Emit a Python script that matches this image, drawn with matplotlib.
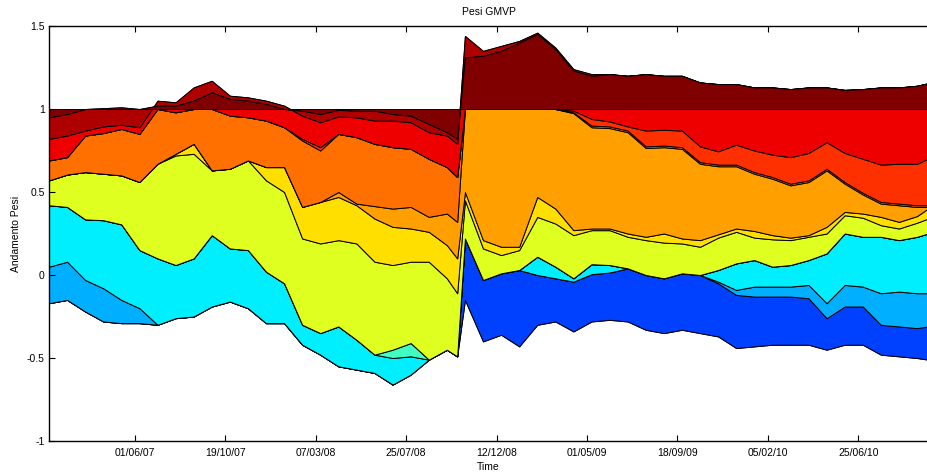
import numpy as np
import pandas as pd
import matplotlib
matplotlib.use('Agg')
import matplotlib.pyplot as plt
import matplotlib.dates as mdates
from matplotlib.ticker import FixedLocator, FixedFormatter

plt.rcParams['font.family'] = ['Liberation Sans', 'DejaVu Sans']
plt.rcParams['axes.unicode_minus'] = False

# observation dates (4-weekly, with the October 2008 break)
dates = (pd.date_range('2007-01-19', periods=23, freq='28D')
         .append(pd.DatetimeIndex(['2008-10-12']))
         .append(pd.date_range('2008-10-24', '2010-09-24', freq='28D'))
         .append(pd.DatetimeIndex(['2010-10-11'])))

# cumulative GMVP weights (top of each asset in the stack)
lev01 = [-0.17, -0.15, -0.22, -0.28, -0.29, -0.29, -0.30, -0.26, -0.25, -0.19, -0.16, -0.20, -0.29,
         -0.29, -0.42, -0.48, -0.55, -0.57, -0.59, -0.66, -0.60, -0.51, -0.45, -0.49,
         -0.15, -0.40, -0.36, -0.43, -0.30, -0.28, -0.34, -0.28, -0.27, -0.28, -0.33, -0.35, -0.33,
         -0.35, -0.37, -0.44, -0.43, -0.42, -0.42, -0.42, -0.45, -0.42, -0.42, -0.48, -0.49, -0.50, -0.51]
lev02 = lev01[:24] + [0.22, -0.03, 0.01, 0.03, 0.0, -0.02, -0.04, 0.005, 0.015, 0.04, 0.0, -0.02, 0.01,
                      0.0, -0.05, -0.12, -0.13, -0.13, -0.13, -0.14, -0.26, -0.19, -0.19, -0.30, -0.31,
                      -0.32, -0.31]
lev03 = [0.05, 0.08, -0.03, -0.08, -0.15, -0.20] + lev01[6:24] + lev02[24:38] + \
        [-0.04, -0.09, -0.07, -0.07, -0.07, -0.06, -0.17, -0.06, -0.07, -0.11, -0.10, -0.11, -0.11]
lev04 = [0.42, 0.41, 0.335, 0.33, 0.305, 0.15, 0.10, 0.06, 0.10, 0.24, 0.16, 0.15, 0.02,
         -0.05, -0.30, -0.35, -0.31, -0.39, -0.48, -0.50, -0.49, -0.51, -0.45, -0.49,
         0.22, -0.03, 0.01, 0.03, 0.11, 0.05, -0.02, 0.065, 0.06, 0.04, 0.0, -0.02, 0.01,
         0.0, 0.03, 0.07, 0.09, 0.05, 0.06, 0.09, 0.13, 0.25, 0.23, 0.23, 0.21, 0.23, 0.25]
lev05 = lev04[:19] + [-0.45, -0.41] + lev04[21:]
lev06 = [0.57, 0.605, 0.62, 0.61, 0.60, 0.56, 0.67, 0.72, 0.73, 0.63, 0.64, 0.69, 0.57,
         0.50, 0.22, 0.19, 0.21, 0.19, 0.08, 0.06, 0.08, 0.08, -0.02, -0.11,
         0.45, 0.16, 0.12, 0.15, 0.35, 0.31, 0.24, 0.27, 0.27, 0.23, 0.21, 0.195, 0.19,
         0.17, 0.225, 0.26, 0.225, 0.215, 0.21, 0.23, 0.25, 0.36, 0.345, 0.30, 0.28, 0.315, 0.34]
lev07 = [0.57, 0.605, 0.62, 0.61, 0.60, 0.56, 0.67, 0.73, 0.79, 0.63, 0.64, 0.69, 0.65,
         0.65, 0.41, 0.44, 0.47, 0.42, 0.34, 0.29, 0.28, 0.26, 0.18, 0.10,
         0.50, 0.21, 0.17, 0.17, 0.47, 0.40, 0.27, 0.28, 0.28, 0.25, 0.23, 0.25, 0.22,
         0.21, 0.245, 0.28, 0.265, 0.24, 0.225, 0.24, 0.29, 0.38, 0.37, 0.35, 0.32, 0.355, 0.40]
lev08 = lev07[:16] + [0.50, 0.43, 0.415, 0.40, 0.41, 0.35, 0.37, 0.32,
                      1.0, 1.0, 1.0, 1.0, 1.0, 1.0, 0.975, 0.89, 0.885, 0.86, 0.765, 0.77, 0.76,
                      0.67, 0.655, 0.655, 0.61, 0.58, 0.54, 0.56, 0.63, 0.55, 0.485, 0.43, 0.42,
                      0.41, 0.41]
lev09 = [0.69, 0.71, 0.84, 0.855, 0.88, 0.85, 1.0, 0.98, 1.0, 1.0, 0.96, 0.95, 0.93,
         0.89, 0.81, 0.75, 0.85, 0.83, 0.79, 0.77, 0.76, 0.70, 0.65, 0.59,
         1.0, 1.0, 1.0, 1.0, 1.0, 1.0, 0.98, 0.90, 0.895, 0.87, 0.775, 0.78, 0.77,
         0.68, 0.665, 0.665, 0.62, 0.59, 0.55, 0.57, 0.64, 0.56, 0.495, 0.44, 0.43, 0.42, 0.42]
lev10 = lev09[:14] + [0.82, 0.77] + lev09[16:24] + \
        [1.0, 1.0, 1.0, 1.0, 1.0, 1.0, 0.99, 0.94, 0.925, 0.895, 0.87, 0.875, 0.87,
         0.775, 0.745, 0.785, 0.75, 0.725, 0.71, 0.735, 0.80, 0.735, 0.70, 0.665, 0.67, 0.67, 0.70]
lev11 = [0.82, 0.84, 0.87, 0.895, 0.905, 0.89, 1.05, 1.04, 1.13, 1.17, 1.08, 1.07, 1.05,
         1.02, 0.96, 0.92, 0.955, 0.95, 0.93, 0.93, 0.92, 0.86, 0.84, 0.79,
         1.44, 1.35, 1.38, 1.41, 1.46, 1.37, 1.24, 1.21, 1.21, 1.20, 1.21, 1.20, 1.20,
         1.16, 1.15, 1.15, 1.13, 1.13, 1.12, 1.13, 1.13, 1.115, 1.12, 1.13, 1.13, 1.14, 1.155]
lev12 = [0.95, 0.97, 1.0, 1.005, 1.01, 1.0, 1.02, 1.02, 1.05, 1.10, 1.06, 1.05, 1.03,
         1.0, 0.99, 0.97, 0.995, 0.99, 0.99, 0.97, 0.96, 0.91, 0.86, 0.82,
         1.31, 1.32, 1.35, 1.40, 1.45, 1.36, 1.23, 1.20] + lev11[32:]
lev13 = [1.0] * len(dates)  # fully invested

colors = ['#000090', '#0040FF', '#00AFFF', '#00EFFF', '#40FFC0', '#DFFF20', '#FFDF00',
          '#FF9F00', '#FF7000', '#FF3000', '#EF0000', '#AF0000', '#800000']

levels = np.array([lev01, lev02, lev03, lev04, lev05, lev06, lev07, lev08, lev09,
                   lev10, lev11, lev12, lev13])
weights = np.diff(levels, axis=0, prepend=0)

fig = plt.figure(figsize=(9.28, 4.73), dpi=100)
ax = fig.add_axes([49 / 928, 32 / 473, 879 / 928, 415 / 473])

ax.stackplot(dates, weights, colors=colors, edgecolor='k', linewidth=0.7)

ax.set_xlim(dates[0], dates[-1])
ax.set_ylim(-1, 1.5)

xt = pd.to_datetime(['2007-06-01', '2007-10-19', '2008-03-07', '2008-07-25', '2008-12-12',
                     '2009-05-01', '2009-09-18', '2010-02-05', '2010-06-25'])
ax.set_xticks(xt)
ax.xaxis.set_major_formatter(mdates.DateFormatter('%d/%m/%y'))
yt = [-1, -0.5, 0, 0.5, 1, 1.5]
ax.yaxis.set_major_locator(FixedLocator(yt))
ax.yaxis.set_major_formatter(FixedFormatter(['-1', '-0.5', '0', '0.5', '1', '1.5']))

ax.tick_params(direction='in', length=4, width=0.8, top=True, right=False,
               labelsize=7.5)
ax.tick_params(axis='x', pad=5)
ax.tick_params(axis='y', pad=3)
ax.spines['right'].set_visible(False)
for s in ['left', 'bottom', 'top']:
    ax.spines[s].set_linewidth(1.0)

ax.set_title('Pesi GMVP', fontsize=7.5, pad=8)
ax.set_xlabel('Time', fontsize=7.5, labelpad=3)
ax.set_ylabel('Andamento Pesi', fontsize=7.5, labelpad=4)

plt.savefig('out.png', dpi=100)
